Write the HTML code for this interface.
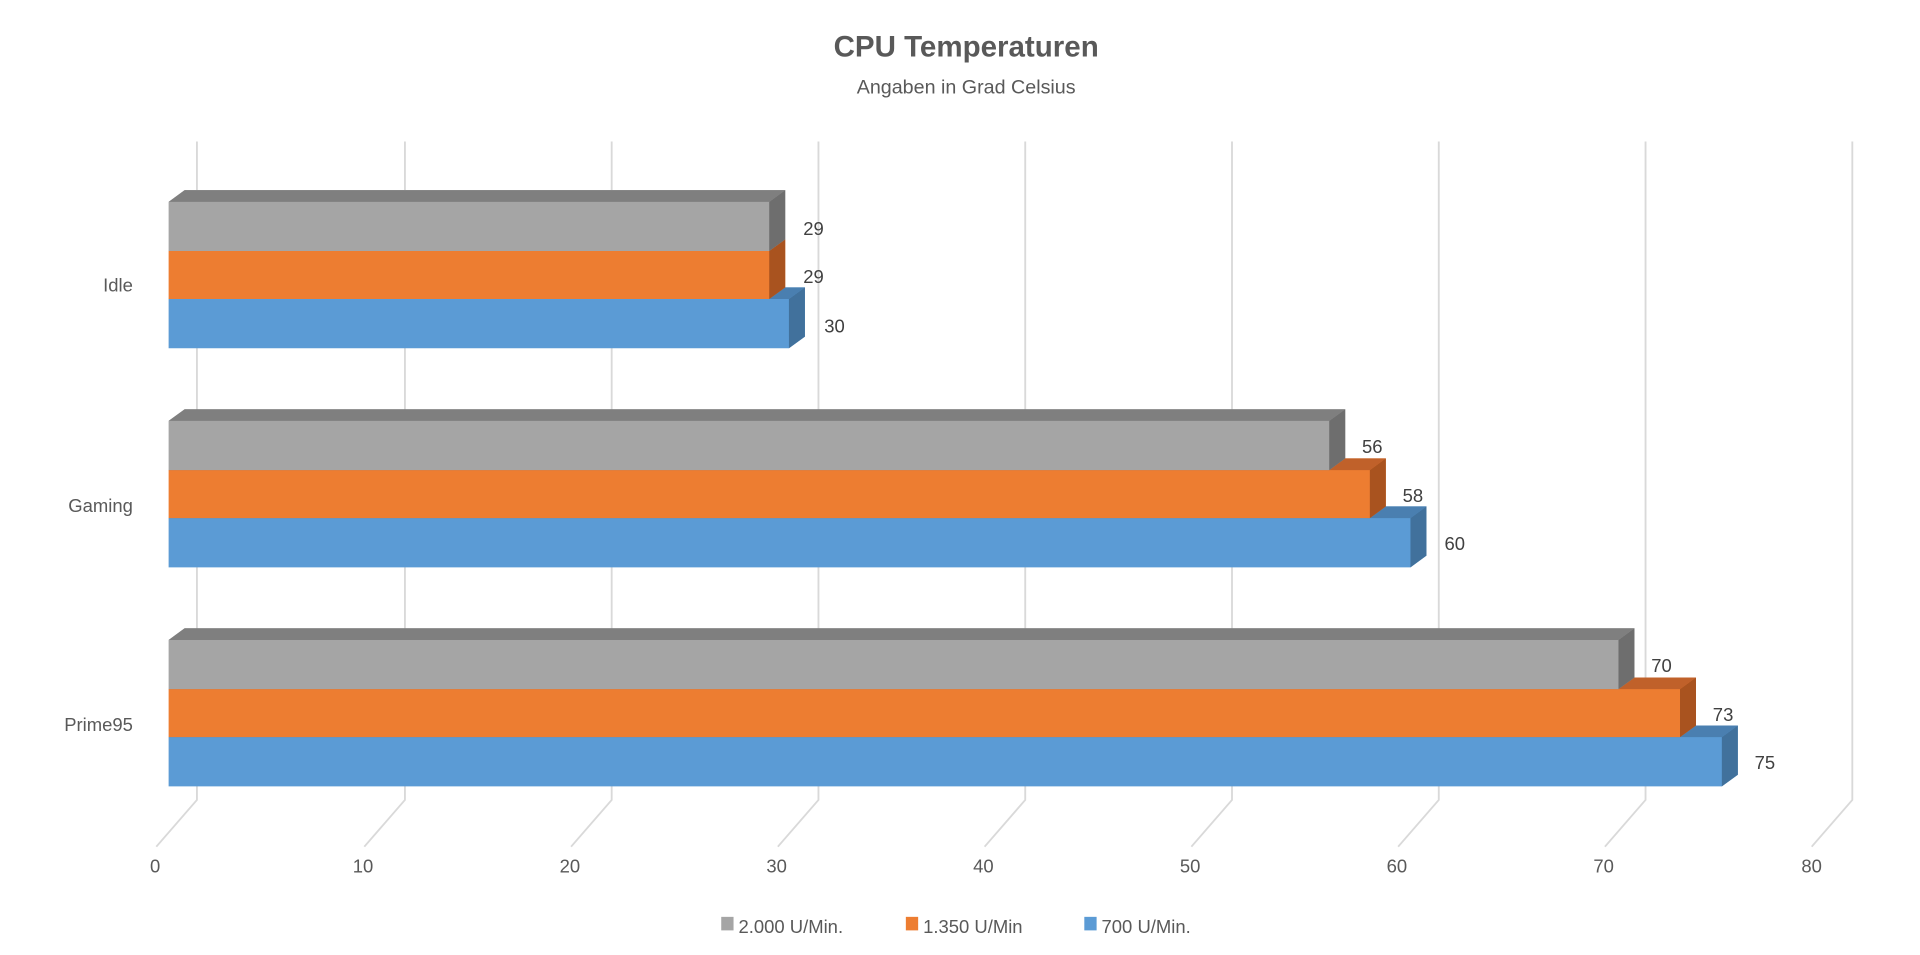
<!DOCTYPE html>
<html><head><meta charset="utf-8"><style>html,body{margin:0;padding:0;background:#fff}svg{display:block}</style></head>
<body>
<svg width="1920" height="955" viewBox="0 0 1560 776" preserveAspectRatio="none" xmlns="http://www.w3.org/2000/svg" font-family="Liberation Sans, sans-serif" fill="#595959">
<rect width="1560" height="776" fill="#fff"/>
<g stroke="#d9d9d9" stroke-width="1.5" fill="none">
<path d="M160,115V650L127,688"/><path d="M329,115V650L296,688"/><path d="M497,115V650L464,688"/><path d="M665,115V650L632,688"/><path d="M833,115V650L800,688"/><path d="M1001,115V650L968,688"/><path d="M1169,115V650L1136,688"/><path d="M1337,115V650L1304,688"/><path d="M1505,115V650L1472,688"/>
</g>
<g id="bars"></g>
<text x="785" y="46" text-anchor="middle" font-size="24" font-weight="bold">CPU Temperaturen</text>
<text x="785" y="76" text-anchor="middle" font-size="16">Angaben in Grad Celsius</text>
<g font-size="15" text-anchor="end">
<text x="108" y="237">Idle</text><text x="108" y="416">Gaming</text><text x="108" y="594">Prime95</text>
</g>
<g font-size="15" text-anchor="middle">
<text x="126" y="709">0</text><text x="295" y="709">10</text><text x="463" y="709">20</text><text x="631" y="709">30</text><text x="799" y="709">40</text><text x="967" y="709">50</text><text x="1135" y="709">60</text><text x="1303" y="709">70</text><text x="1472" y="709">80</text>
</g>
<g font-size="15">
<rect x="586" y="745" width="10" height="11" fill="#A5A5A5"/><text x="600" y="758">2.000 U/Min.</text>
<rect x="736" y="745" width="10" height="11" fill="#ED7D31"/><text x="750" y="758">1.350 U/Min</text>
<rect x="881" y="745" width="10" height="11" fill="#5B9BD5"/><text x="895" y="758">700 U/Min.</text>
</g>
<g id="bars2">
<!-- Idle -->
<polygon points="137,243 150,233.5 654,233.5 654,273.5 641,283 137,283" fill="#5B9BD5"/><polygon points="641,243 654,233.5 654,273.5 641,283" fill="#41719C"/><polygon points="137,243 150,233.5 654,233.5 641,243" fill="#4A7FB0"/>
<polygon points="137,204 150,194.5 638,194.5 638,233.5 625,243 137,243" fill="#ED7D31"/><polygon points="625,204 638,194.5 638,233.5 625,243" fill="#A9531F"/><polygon points="137,204 150,194.5 638,194.5 625,204" fill="#C0612A"/>
<polygon points="137,164 150,154.5 638,154.5 638,194.5 625,204 137,204" fill="#A5A5A5"/><polygon points="625,164 638,154.5 638,194.5 625,204" fill="#6E6E6E"/><polygon points="137,164 150,154.5 638,154.5 625,164" fill="#7F7F7F"/>
<!-- Gaming -->
<polygon points="137,421 150,411.5 1159,411.5 1159,451.5 1146,461 137,461" fill="#5B9BD5"/><polygon points="1146,421 1159,411.5 1159,451.5 1146,461" fill="#41719C"/><polygon points="137,421 150,411.5 1159,411.5 1146,421" fill="#4A7FB0"/>
<polygon points="137,382 150,372.5 1126,372.5 1126,411.5 1113,421 137,421" fill="#ED7D31"/><polygon points="1113,382 1126,372.5 1126,411.5 1113,421" fill="#A9531F"/><polygon points="137,382 150,372.5 1126,372.5 1113,382" fill="#C0612A"/>
<polygon points="137,342 150,332.5 1093,332.5 1093,372.5 1080,382 137,382" fill="#A5A5A5"/><polygon points="1080,342 1093,332.5 1093,372.5 1080,382" fill="#6E6E6E"/><polygon points="137,342 150,332.5 1093,332.5 1080,342" fill="#7F7F7F"/>
<!-- Prime95 -->
<polygon points="137,599 150,589.5 1412,589.5 1412,629.5 1399,639 137,639" fill="#5B9BD5"/><polygon points="1399,599 1412,589.5 1412,629.5 1399,639" fill="#41719C"/><polygon points="137,599 150,589.5 1412,589.5 1399,599" fill="#4A7FB0"/>
<polygon points="137,560 150,550.5 1378,550.5 1378,589.5 1365,599 137,599" fill="#ED7D31"/><polygon points="1365,560 1378,550.5 1378,589.5 1365,599" fill="#A9531F"/><polygon points="137,560 150,550.5 1378,550.5 1365,560" fill="#C0612A"/>
<polygon points="137,520 150,510.5 1328,510.5 1328,550.5 1315,560 137,560" fill="#A5A5A5"/><polygon points="1315,520 1328,510.5 1328,550.5 1315,560" fill="#6E6E6E"/><polygon points="137,520 150,510.5 1328,510.5 1315,520" fill="#7F7F7F"/>
</g>
<g font-size="15" text-anchor="middle" fill="#404040">
<text x="661" y="191">29</text><text x="661" y="230">29</text><text x="678" y="270">30</text>
<text x="1115" y="368">56</text><text x="1148" y="408">58</text><text x="1182" y="447">60</text>
<text x="1350" y="546">70</text><text x="1400" y="586">73</text><text x="1434" y="625">75</text>
</g>
</svg>
</body></html>
